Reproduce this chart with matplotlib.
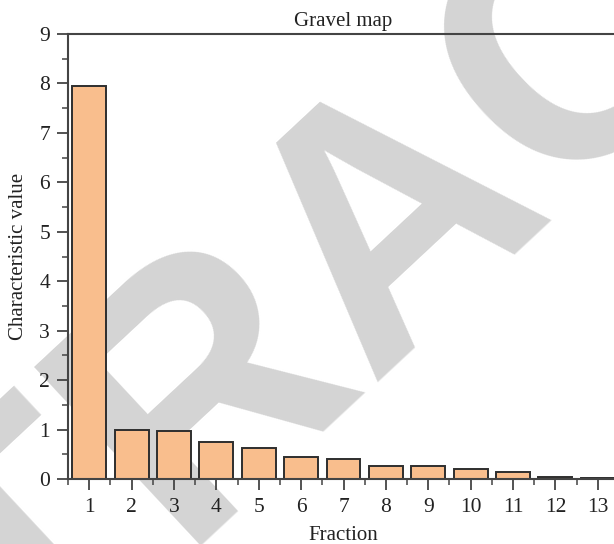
import numpy as np
import matplotlib
matplotlib.use("Agg")
import matplotlib.pyplot as plt
from matplotlib.ticker import MultipleLocator

# bar data
fractions = [1, 2, 3, 4, 5, 6, 7, 8, 9, 10, 11, 12, 13]
values = [7.95, 0.99, 0.98, 0.74, 0.62, 0.45, 0.41, 0.27, 0.26, 0.20, 0.135, 0.04, 0.025]
title = "Gravel map"
watermark = "RETRACTED"

plt.rcParams['font.family'] = ['Liberation Serif', 'DejaVu Serif']

fig = plt.figure(figsize=(6.14, 5.44), dpi=100)

# grey retraction stamp behind everything
fig.text(0.645, 0.60, watermark, fontsize=255, color='#d4d4d4', weight='bold',
         family='Liberation Sans', rotation=43, rotation_mode='anchor',
         ha='center', va='center', zorder=0)

ax = fig.add_axes([68 / 614, 1 - 479 / 544, (619 - 68) / 614, (479 - 34) / 544])
ax.set_facecolor('none')
ax.set_zorder(1)

ax.bar(fractions, values, width=0.8, color='#f9be8d', edgecolor='#2e2e2e', linewidth=1.4)

ax.set_xlim(0.5, 13.5)
ax.set_ylim(0, 9)
ax.xaxis.set_major_locator(MultipleLocator(1))
ax.xaxis.set_minor_locator(MultipleLocator(0.5))
ax.yaxis.set_major_locator(MultipleLocator(1))
ax.yaxis.set_minor_locator(MultipleLocator(0.5))

for s in ['left', 'top', 'bottom']:
    ax.spines[s].set_color('#444444')
    ax.spines[s].set_linewidth(1.5)
ax.spines['right'].set_visible(False)

ax.tick_params(which='major', direction='out', length=8, width=1.3, color='#444444',
               labelsize=15.5, labelcolor='#222222')
ax.tick_params(axis='x', which='major', pad=6)
ax.tick_params(axis='y', which='major', pad=5)
ax.tick_params(which='minor', direction='out', length=4, width=1.1, color='#444444')

ax.set_title(title, fontsize=15, color='#222222', pad=6)
ax.set_xlabel("Fraction", fontsize=15, color='#222222', labelpad=6)
ax.set_ylabel("Characteristic value", fontsize=15, color='#222222', labelpad=8)

fig.savefig("out.png", dpi=100)
